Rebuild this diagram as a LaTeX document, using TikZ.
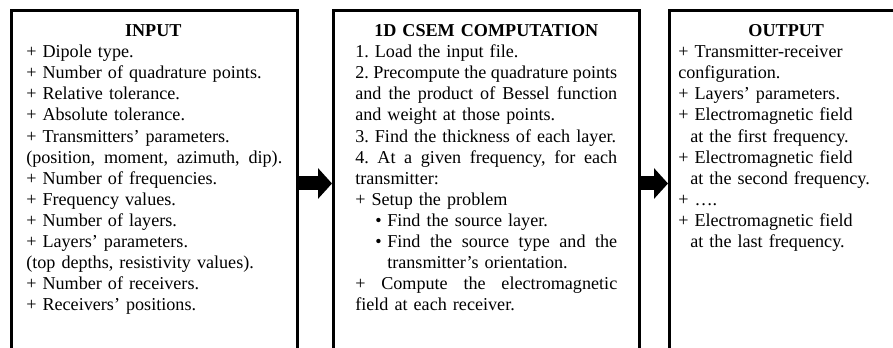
\documentclass[tikz,border=0pt]{standalone}
\usepackage{fontspec}
\setmainfont{Liberation Serif}
\usetikzlibrary{arrows.meta}
\newcommand{\js}{\hskip 0.25em plus 1fil minus 0.1em\relax}
\newcommand{\jline}[2][\linewidth]{\leavevmode\hbox to #1{#2}}
\newcommand{\bulletlead}{\hspace*{15pt}\makebox[9pt][l]{\textbullet}}
\newcommand{\bodyfont}{\fontsize{13.6pt}{15.8pt}\selectfont\frenchspacing}
\tikzset{
  x=0.75pt, y=-0.75pt,
  panel/.style={draw, line width=2.25pt, anchor=north west, inner sep=0pt, minimum height=259.5pt},
  bodytext/.style={anchor=base west, inner sep=0pt, font=\bodyfont},
  blockarrow/.style={line width=10.5pt, -{Triangle[length=10.5pt,width=22.5pt]}}
}
\begin{document}
\begin{tikzpicture}
\useasboundingbox (0,0) rectangle (893,348);
\clip (0,0) rectangle (893,348);
\node[panel, minimum width=214.875pt] (b1) at (9.5,9) {};
\node[panel, minimum width=229.5pt] (b2) at (332,9) {};
\node[panel, minimum width=177pt] (b3) at (668,9) {};
\draw[blockarrow] (b1.east) -- (b2.west);
\draw[blockarrow] (b2.east) -- (b3.west);
\node[bodytext, text width=190.5pt] (t1) at (26,36.7) {\centering\textbf{INPUT}\par\raggedright
+ Dipole type.\\
+ Number of quadrature points.\\
+ Relative tolerance.\\
+ Absolute tolerance.\\
+ Transmitters’ parameters.\\
\jline[192pt]{(position,\js moment,\js azimuth,\js dip).}\\
+ Number of frequencies.\\
+ Frequency values.\\
+ Number of layers.\\
+ Layers’ parameters.\\
(top depths, resistivity values).\\
+ Number of receivers.\\
+ Receivers’ positions.\par};
\node[bodytext, text width=196.5pt] (t2) at (355,36.7) {\centering\textbf{1D CSEM COMPUTATION}\par\raggedright
1. Load the input file.\\
\jline{2.\js Precompute\js the\js quadrature\js points}\\
\jline{and\js the\js product\js of\js Bessel\js function}\\
and weight at those points.\\
3. Find the thickness of each layer.\\
\jline{4.\js At\js a\js given\js frequency,\js for\js each}\\
transmitter:\\
+ Setup the problem\\
\bulletlead Find the source layer.\\
\bulletlead\jline[\dimexpr\linewidth-24pt\relax]{Find\js the\js source\js type\js and\js the}\\
\hspace*{24pt}transmitter’s orientation.\\
\jline{+\js Compute\js the\js electromagnetic}\\
field at each receiver.\par};
\node[bodytext, text width=162pt] (t3) at (678,36.7) {\centering\textbf{OUTPUT}\par\raggedright
+ Transmitter-receiver\\
configuration.\\
+ Layers’ parameters.\\
+ Electromagnetic field\\
\hspace*{9pt}at the first frequency.\\
+ Electromagnetic field\\
\hspace*{9pt}at the second frequency.\\
+ ….\\
+ Electromagnetic field\\
\hspace*{9pt}at the last frequency.\par};
\end{tikzpicture}
\end{document}
